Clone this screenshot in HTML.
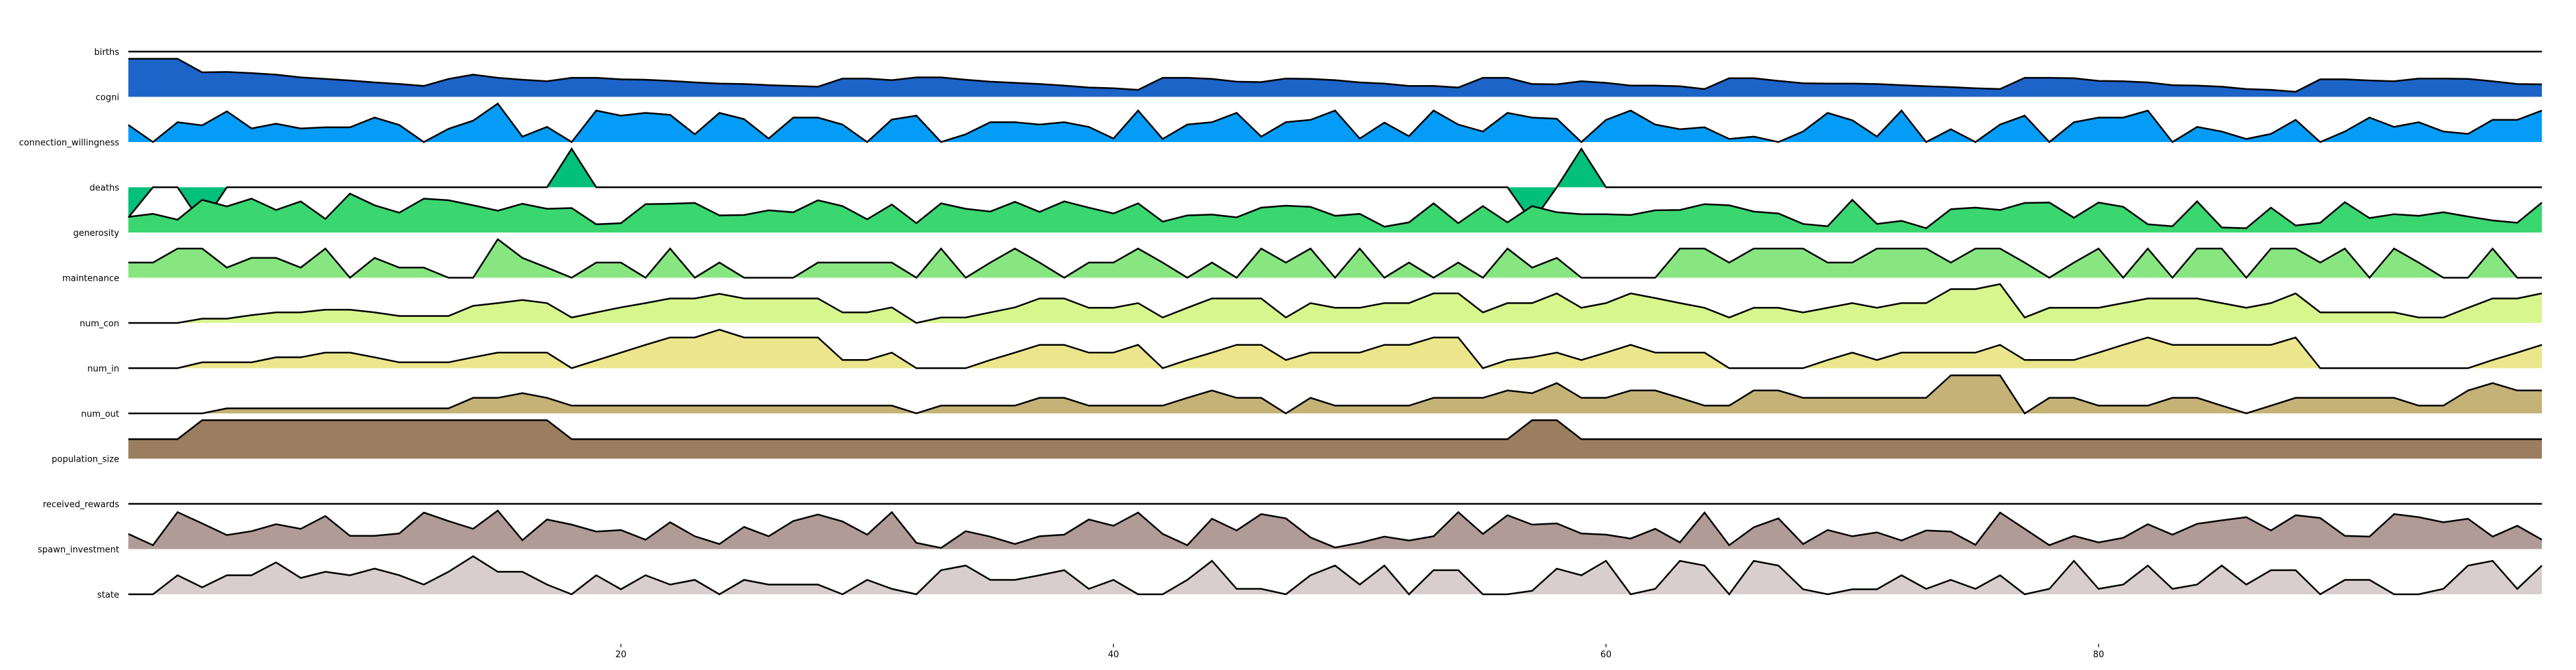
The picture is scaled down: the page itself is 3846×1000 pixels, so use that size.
<!DOCTYPE html>
<html><head><meta charset="utf-8">
<style>
html,body{margin:0;padding:0;background:#fff;}
svg{display:block;}
text{font-family:"DejaVu Sans","Liberation Sans",sans-serif;fill:#000;}
</style></head>
<body>
<svg id="chart" width="3846" height="1000" viewBox="0 0 3846 1000" xmlns="http://www.w3.org/2000/svg">
<rect width="3846" height="1000" fill="#fff"/>
<g id="rows"></g>
<g id="xaxis"></g>
</svg>
<script>
const seriesNames = ["births","cogni","connection_willingness","deaths","generosity","maintenance","num_con","num_in","num_out","population_size","received_rewards","spawn_investment","state"];
const seriesColors = ["#1d2c8c","#1c64c8","#049cf6","#00c07a","#3ad670","#87e680","#d7f78e","#ebe68c","#c4b277","#9b7e5f","#a08a84","#b09b96","#d8cecd"];
const xTicks = [20,40,60,80];
const births = new Array(99).fill(0);
const cogni = [98,98,98,63,64,61,57,50,46,42,37,33,28,46,57,49,44,40,49,49,45,44,41,37,34,
33,30,28,26,47,47,43,50,50,44,39,36,33,29,24,22,18,49,49,46,39,38,47,46,
43,37,34,28,28,24,49,49,33,32,40,36,29,29,27,20,48,48,41,35,34,34,33,30,
27,25,22,20,49,49,48,41,40,37,30,29,26,20,18,13,45,45,42,40,47,47,46,40,33,32];
const connection = [44,0,51,43,79,35,47,35,38,38,63,44,0,34,55,99,14,39,0,81,68,75,70,20,75,
59,9,63,63,45,0,58,68,0,20,51,51,45,51,39,9,81,8,45,51,75,14,51,57,
81,9,50,15,81,45,27,75,63,60,0,57,81,45,33,38,8,14,0,27,75,56,14,81,
0,33,0,45,68,0,51,63,63,81,0,39,27,8,21,57,0,27,63,39,51,27,21,57,57,81];
const deaths = [-78,0,0,-95,0,0,0,0,0,0,0,0,0,0,0,0,0,0,99,0,0,0,0,0,0,
0,0,0,0,0,0,0,0,0,0,0,0,0,0,0,0,0,0,0,0,0,0,0,0,
0,0,0,0,0,0,0,0,-90,0,99,0,0,0,0,0,0,0,0,0,0,0,0,0,
0,0,0,0,0,0,0,0,0,0,0,0,0,0,0,0,0,0,0,0,0,0,0,0,0,0];
const generosity = [40,48,33,84,67,87,58,80,35,100,70,51,87,83,70,56,74,61,63,21,24,73,74,76,44,
45,57,52,83,68,34,72,24,75,61,54,79,53,80,64,49,75,28,44,46,39,64,69,66,
43,48,15,26,75,24,68,26,68,52,47,47,45,57,58,73,70,54,49,22,16,84,22,30,
11,60,64,58,76,77,38,77,66,21,16,80,13,11,64,18,25,78,37,47,43,52,41,31,25,77];
const maintenance = [39,39,75,75,26,51,51,26,75,0,51,26,26,0,0,99,51,26,0,39,39,0,75,0,39,
0,0,0,39,39,39,39,0,75,0,39,75,39,0,39,39,75,39,0,39,0,75,39,75,
0,75,0,39,0,39,0,75,26,51,0,0,0,0,75,75,39,75,75,75,39,39,75,75,
75,39,75,75,39,0,39,75,0,75,0,75,75,0,75,75,39,75,0,75,39,0,0,75,0,0];
const numCon = [0,0,0,11,11,20,27,27,34,34,27,18,18,18,44,51,59,51,14,27,40,51,63,63,75,
63,63,63,63,27,27,40,0,14,14,27,40,63,63,39,39,51,14,39,63,63,63,14,51,
39,39,51,51,76,76,27,51,51,76,39,51,76,64,51,39,14,39,39,27,39,51,39,51,
51,87,87,100,14,39,39,39,51,63,63,63,51,39,51,76,27,27,27,27,14,14,39,63,63,76];
const numIn = [0,0,0,15,15,15,28,28,40,40,28,15,15,15,28,40,40,40,0,20,40,60,79,79,99,
79,79,79,79,21,21,40,0,0,0,21,40,60,60,40,40,60,0,21,40,60,60,21,40,
40,40,60,60,79,79,0,21,28,40,21,40,60,40,40,40,0,0,0,0,21,40,21,40,
40,40,40,60,21,21,21,40,60,79,60,60,60,60,60,79,0,0,0,0,0,0,0,21,40,60];
const numOut = [0,0,0,0,13,13,13,13,13,13,13,13,13,13,40,40,52,40,20,20,20,20,20,20,20,
20,20,20,20,20,20,20,0,20,20,20,20,40,40,20,20,20,20,40,59,40,40,0,40,
20,20,20,20,40,40,40,59,52,78,40,40,59,59,40,20,20,59,59,40,40,40,40,40,
40,98,98,98,0,40,40,20,20,20,40,40,20,0,20,40,40,40,40,40,20,20,59,78,59,59];
const populationSize = [50,50,50,99,99,99,99,99,99,99,99,99,99,99,99,99,99,99,50,50,50,50,50,50,50,
50,50,50,50,50,50,50,50,50,50,50,50,50,50,50,50,50,50,50,50,50,50,50,50,
50,50,50,50,50,50,50,50,99,99,50,50,50,50,50,50,50,50,50,50,50,50,50,50,
50,50,50,50,50,50,50,50,50,50,50,50,50,50,50,50,50,50,50,50,50,50,50,50,50,50];
const receivedRewards = new Array(99).fill(0);
const spawnInvestment = [39,10,95,66,36,46,64,52,85,34,34,40,94,72,52,99,23,76,63,45,49,24,69,33,13,
57,33,72,89,71,37,95,16,3,46,32,13,33,37,76,60,94,39,10,78,48,90,79,30,
4,16,32,22,33,95,39,87,63,66,40,37,27,52,17,94,10,56,79,13,49,33,43,22,
48,45,11,94,52,10,34,17,29,64,37,65,74,82,48,87,80,34,32,90,82,69,78,32,60,24];
const state = [0,0,49,18,49,49,82,42,58,49,66,49,25,58,98,58,58,25,0,49,13,49,25,37,0,
37,25,25,25,0,37,14,0,62,74,37,37,49,62,14,37,0,0,37,86,14,14,0,49,
74,25,74,0,62,62,0,0,9,66,49,86,0,14,86,74,0,86,74,13,0,13,13,49,
14,37,14,49,0,14,86,14,25,74,14,25,74,25,62,62,0,37,37,0,0,14,74,86,14,74];

const allSeries = [births,cogni,connection,deaths,generosity,maintenance,numCon,numIn,numOut,populationSize,receivedRewards,spawnInvestment,state];

const NS = "http://www.w3.org/2000/svg";
const X0 = 191.6, XSTEP = 36.77;
function xScale(i){ return X0 + i*XSTEP; }
const ROW0 = 77, ROWSTEP = 67.5, HSCALE = 0.58;
function baseY(r){ return ROW0 + r*ROWSTEP; }
function yScale(r, v){ return baseY(r) - v*HSCALE; }

const rowsG = document.getElementById('rows');
allSeries.forEach((vals, r) => {
  const g = document.createElementNS(NS,'g');
  
  
  const b = baseY(r);
  let pts = vals.map((v,i) => xScale(i).toFixed(1) + ',' + yScale(r,v).toFixed(1));
  const area = document.createElementNS(NS,'polygon');
  
  
  area.setAttribute('points', xScale(0).toFixed(1)+','+b+' '+pts.join(' ')+' '+xScale(vals.length-1).toFixed(1)+','+b);
  area.setAttribute('fill', seriesColors[r]);
  g.appendChild(area);
  const line = document.createElementNS(NS,'polyline');
  
  
  line.setAttribute('points', pts.join(' '));
  line.setAttribute('fill', 'none');
  line.setAttribute('stroke', '#000');
  line.setAttribute('stroke-width', '2.5');
  line.setAttribute('stroke-linejoin', 'miter');
  g.appendChild(line);
  const lab = document.createElementNS(NS,'text');
  
  
  lab.setAttribute('x', 178);
  lab.setAttribute('y', b + 5);
  lab.setAttribute('text-anchor', 'end');
  lab.setAttribute('font-size', '13');
  lab.textContent = seriesNames[r];
  g.appendChild(lab);
  rowsG.appendChild(g);
});

const xg = document.getElementById('xaxis');
xTicks.forEach(t => {
  const tk = document.createElementNS(NS,'line');
  
  
  tk.setAttribute('x1', xScale(t)); tk.setAttribute('x2', xScale(t));
  tk.setAttribute('y1', 961); tk.setAttribute('y2', 966);
  tk.setAttribute('stroke', '#000'); tk.setAttribute('stroke-width', '1.2');
  xg.appendChild(tk);
  const tl = document.createElementNS(NS,'text');
  
  
  tl.setAttribute('x', xScale(t)); tl.setAttribute('y', 981);
  tl.setAttribute('text-anchor', 'middle'); tl.setAttribute('font-size', '13');
  tl.textContent = t;
  xg.appendChild(tl);
});
</script>
</body></html>
